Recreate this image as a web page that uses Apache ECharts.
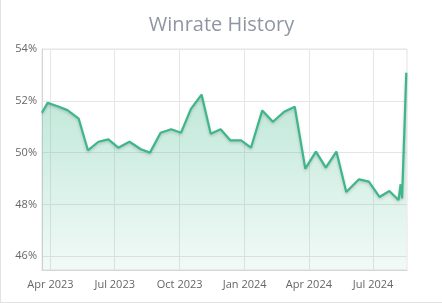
<!DOCTYPE html>
<html>
<head>
<meta charset="utf-8">
<script src="https://cdn.jsdelivr.net/npm/echarts@6/dist/echarts.min.js"></script>
<style>
html,body{margin:0;padding:0;background:#fff;}
#wrap{position:absolute;left:0;top:0;width:441px;height:302px;border-left:1px solid #e2e2e2;border-bottom:1px solid #e2e2e2;}
#chart{width:441px;height:302px;}
</style>
</head>
<body>
<div id="wrap"><div id="chart"></div></div>
<script>
var titleText = 'Winrate History';
var dates = ['2023-03-20','2023-03-28','2023-04-11','2023-04-25','2023-05-11','2023-05-24','2023-06-08','2023-06-22',
  '2023-07-06','2023-07-22','2023-08-07','2023-08-20','2023-09-04','2023-09-19','2023-10-03','2023-10-17',
  '2023-11-01','2023-11-14','2023-11-28','2023-12-12','2023-12-27','2024-01-10','2024-01-26','2024-02-10',
  '2024-02-26','2024-03-12','2024-03-27','2024-04-11','2024-04-25','2024-05-10','2024-05-24','2024-06-11',
  '2024-06-25','2024-07-10','2024-07-24','2024-08-06','2024-08-09','2024-08-11','2024-08-13','2024-08-17'];
var winrates = [51.54,51.92,51.79,51.64,51.31,50.09,50.42,50.51,
  50.19,50.42,50.13,50.00,50.77,50.90,50.77,51.69,
  52.24,50.73,50.90,50.47,50.47,50.19,51.63,51.19,
  51.58,51.77,49.38,50.04,49.42,50.04,48.48,48.97,
  48.88,48.29,48.52,48.17,48.78,48.23,48.28,53.08];
var xTickDates = ['2023-04-01','2023-07-01','2023-10-01','2024-01-01','2024-04-01','2024-07-01'];
var yTicks = [46,48,50,52,54];
var xMin = '2023-03-20', xMax = '2024-08-18';
var yMin = 45.47, yMax = 54;

var months = ['Jan','Feb','Mar','Apr','May','Jun','Jul','Aug','Sep','Oct','Nov','Dec'];
function ts(s){ var p = s.split('-'); return Date.UTC(+p[0], +p[1]-1, +p[2]); }
var seriesData = dates.map(function(d,i){ return [ts(d), winrates[i]]; });
var tickVals = xTickDates.map(ts);

var chart = echarts.init(document.getElementById('chart'));
chart.setOption({
  animation: false,
  title: {
    text: titleText, left: 'center', top: 10,
    textStyle: {fontFamily: 'Open Sans', fontSize: 20, fontWeight: 'normal', color: '#8e96a3'}
  },
  grid: {left: 41, right: 35, top: 49, bottom: 32, show: true, borderColor: '#e3e3e3', borderWidth: 1},
  xAxis: {
    type: 'value', min: ts(xMin), max: ts(xMax), scale: true,
    axisLine: {show: true, lineStyle: {color: '#d6d6d6'}},
    axisTick: {show: false, customValues: tickVals},
    axisLabel: {
      customValues: tickVals, margin: 9,
      fontFamily: 'Open Sans', fontSize: 11, color: '#666',
      formatter: function(v){ var d = new Date(v); return months[d.getUTCMonth()] + ' ' + d.getUTCFullYear(); }
    },
    splitLine: {show: true, lineStyle: {color: '#e6e6e6'}}
  },
  yAxis: {
    type: 'value', min: yMin, max: yMax, scale: true,
    axisLine: {show: true, lineStyle: {color: '#d6d6d6'}},
    axisTick: {show: false, customValues: yTicks},
    axisLabel: {customValues: yTicks, margin: 5, padding: [4,0,0,0], fontFamily: 'Open Sans', fontSize: 11, color: '#666', formatter: '{value}%'},
    splitLine: {show: true, lineStyle: {color: '#e6e6e6'}}
  },
  series: [{
    type: 'line', data: seriesData, showSymbol: false, symbol: 'none',
    lineStyle: {color: '#3db68a', width: 2.2, shadowColor: 'rgba(0,0,0,0.18)', shadowBlur: 3, shadowOffsetY: 1.5},
    itemStyle: {color: '#3db68a'},
    areaStyle: {
      origin: 'start',
      color: new echarts.graphic.LinearGradient(0,0,0,1,[
        {offset: 0, color: 'rgba(61,182,138,0.5)'},
        {offset: 1, color: 'rgba(61,182,138,0.10)'}
      ])
    }
  }]
});
</script>
</body>
</html>
